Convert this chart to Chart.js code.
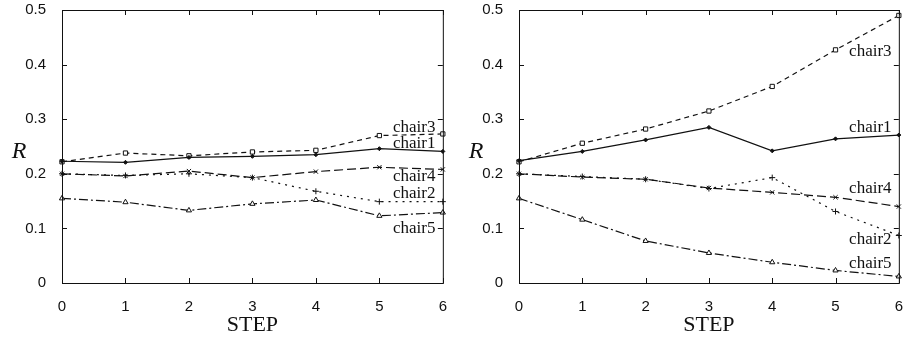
<!DOCTYPE html>
<html>
<head>
<meta charset="utf-8">
<script src="https://cdn.jsdelivr.net/npm/chart.js@4.4.0/dist/chart.umd.min.js"></script>
<style>
  body { margin: 0; background: #fff; width: 903px; height: 338px; overflow: hidden; position: relative; }
  .box { position: absolute; top: -7px; height: 345px; }
</style>
</head>
<body>
<div class="box" style="left:0;width:454px"><canvas id="left"></canvas></div>
<div class="box" style="left:450px;width:460px"><canvas id="right"></canvas></div>
<script>
var steps = ['0', '1', '2', '3', '4', '5', '6'];
var seriesNames = ['chair1', 'chair2', 'chair3', 'chair4', 'chair5'];
var yTicks = [0, 0.1, 0.2, 0.3, 0.4, 0.5];

// left panel
var leftChair1 = [0.223, 0.221, 0.230, 0.232, 0.235, 0.246, 0.241];
var leftChair2 = [0.200, 0.197, 0.200, 0.193, 0.168, 0.149, 0.149];
var leftChair3 = [0.222, 0.238, 0.233, 0.240, 0.243, 0.270, 0.273];
var leftChair4 = [0.200, 0.196, 0.205, 0.193, 0.204, 0.212, 0.208];
var leftChair5 = [0.155, 0.148, 0.133, 0.145, 0.152, 0.123, 0.129];
var leftLabelY = [0.2555, 0.164, 0.285, 0.195, 0.100];

// right panel
var rightChair1 = [0.224, 0.241, 0.262, 0.285, 0.242, 0.264, 0.271];
var rightChair2 = [0.200, 0.195, 0.190, 0.173, 0.193, 0.131, 0.087];
var rightChair3 = [0.222, 0.256, 0.282, 0.315, 0.360, 0.427, 0.490];
var rightChair4 = [0.200, 0.194, 0.190, 0.174, 0.166, 0.157, 0.140];
var rightChair5 = [0.155, 0.116, 0.077, 0.055, 0.038, 0.023, 0.012];
var rightLabelY = [0.285, 0.080, 0.424, 0.173, 0.036];

var labelStep = 5.55;

// line look for each chair
var looks = [
  { dash: [], point: 'rectRot', radius: 2, fill: '#111' },
  { dash: [2, 5], point: 'cross', radius: 3, fill: '#fff' },
  { dash: [5, 4], point: 'rect', radius: 3, fill: '#fff' },
  { dash: [9, 4], point: 'crossRot', radius: 3, fill: '#fff' },
  { dash: [9, 3, 2, 3], point: 'triangle', radius: 3, fill: '#fff' }
];

var frame = {
  id: 'frame',
  afterDraw: function (chart) {
    var ctx = chart.ctx, a = chart.chartArea;
    var xs = chart.scales.x, ys = chart.scales.y;
    ctx.save();
    ctx.strokeStyle = '#111';
    ctx.lineWidth = 1;
    ctx.strokeRect(a.left + 0.5, a.top + 0.5, a.right - a.left, a.bottom - a.top);
    ctx.beginPath();
    yTicks.forEach(function (v) {
      var p = Math.round(ys.getPixelForValue(v)) + 0.5;
      ctx.moveTo(a.left, p); ctx.lineTo(a.left + 5, p);
      ctx.moveTo(a.right, p); ctx.lineTo(a.right - 5, p);
    });
    steps.forEach(function (s, i) {
      var p = Math.round(xs.getPixelForValue(i)) + 0.5;
      ctx.moveTo(p, a.bottom); ctx.lineTo(p, a.bottom - 5);
      ctx.moveTo(p, a.top); ctx.lineTo(p, a.top + 5);
    });
    ctx.stroke();

    // series names next to the lines
    var ly = chart.options.plugins.frame.labelY;
    ctx.fillStyle = '#111';
    ctx.font = '17px "Liberation Serif", "DejaVu Serif", serif';
    ctx.textAlign = 'center';
    ctx.textBaseline = 'middle';
    var lx = a.left + (xs.getPixelForValue(1) - xs.getPixelForValue(0)) * labelStep;
    seriesNames.forEach(function (n, i) {
      ctx.fillText(n, lx, ys.getPixelForValue(ly[i]));
    });

    // y axis letter
    ctx.font = 'italic 24px "Liberation Serif", "DejaVu Serif", serif';
    ctx.fillText('R', a.left - chart.options.plugins.frame.rGap, 159);
    ctx.restore();
  }
};

function makeChart(id, values, labelY, padLeft, padRight, rGap) {
  var datasets = values.map(function (vals, i) {
    var l = looks[i];
    return {
      label: seriesNames[i],
      data: vals,
      borderColor: '#111',
      backgroundColor: l.fill,
      borderWidth: 1.2,
      borderDash: l.dash,
      pointStyle: l.point,
      pointRadius: l.radius,
      pointBorderWidth: 1,
      pointBorderColor: '#111',
      pointBackgroundColor: l.fill,
      tension: 0
    };
  });
  return new Chart(document.getElementById(id), {
    type: 'line',
    data: { labels: steps, datasets: datasets },
    plugins: [frame],
    options: {
      responsive: true,
      maintainAspectRatio: false,
      animation: false,
      layout: { padding: { top: 2, right: padRight, left: 0, bottom: 0 } },
      plugins: {
        legend: { display: false },
        tooltip: { enabled: false },
        frame: { labelY: labelY, rGap: rGap }
      },
      scales: {
        x: {
          offset: false,
          grid: { display: false },
          border: { display: false },
          ticks: {
            color: '#111', padding: 7, maxRotation: 0,
            font: { family: '"Liberation Sans", Arial, sans-serif', size: 15 }
          },
          title: {
            display: true, text: 'STEP', color: '#111', padding: { top: 3, bottom: 0 },
            font: { family: '"Liberation Serif", "DejaVu Serif", serif', size: 22 }
          },
          afterFit: function (s) { s.height = 55; }
        },
        y: {
          min: 0, max: 0.5,
          grid: { display: false },
          border: { display: false },
          ticks: {
            stepSize: 0.1, color: '#111', padding: 8,
            font: { family: '"Liberation Sans", Arial, sans-serif', size: 15 }
          },
          afterFit: function (s) { s.width = padLeft; }
        }
      }
    }
  });
}

makeChart('left', [leftChair1, leftChair2, leftChair3, leftChair4, leftChair5], leftLabelY, 62, 4, 43);
makeChart('right', [rightChair1, rightChair2, rightChair3, rightChair4, rightChair5], rightLabelY, 69, 4, 43);
</script>
</body>
</html>
